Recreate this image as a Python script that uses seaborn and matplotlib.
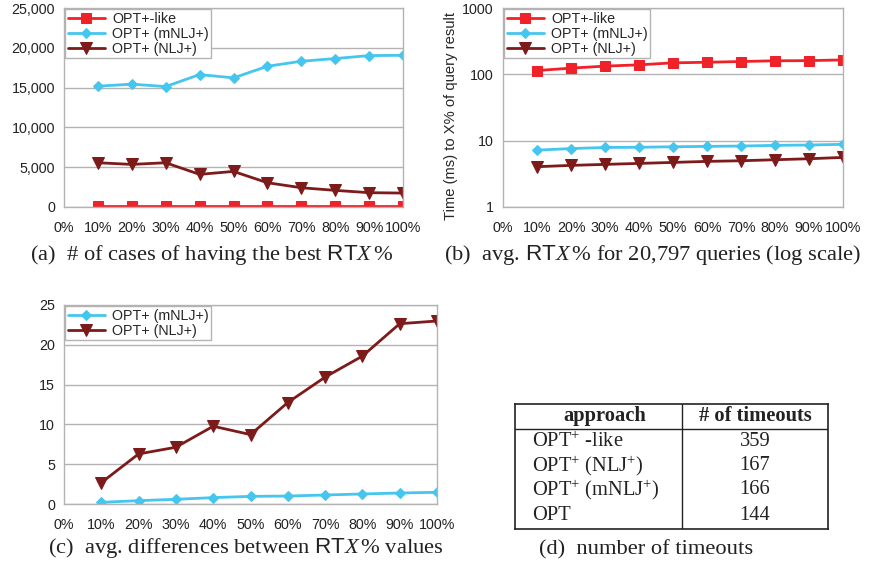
import matplotlib
matplotlib.use("Agg")
import matplotlib.pyplot as plt
import seaborn as sns
import pandas as pd
from matplotlib.ticker import FuncFormatter, FixedLocator, NullLocator

# ---------------- data ----------------
x_pct = [10, 20, 30, 40, 50, 60, 70, 80, 90, 100]
x_ticks = [0, 10, 20, 30, 40, 50, 60, 70, 80, 90, 100]
x_ticklabels = ["0%", "10%", "20%", "30%", "40%", "50%", "60%", "70%", "80%", "90%", "100%"]

names = ["OPT+-like", "OPT+ (mNLJ+)", "OPT+ (NLJ+)"]

a_like = [120, 120, 120, 120, 120, 120, 120, 120, 120, 120]
a_mnlj = [15180, 15430, 15130, 16640, 16220, 17680, 18310, 18650, 19020, 19060]
a_nlj = [5560, 5350, 5560, 4100, 4470, 3050, 2420, 2090, 1800, 1750]

b_like = [114, 124, 133, 139, 149, 152, 156, 160, 161, 165]
b_mnlj = [7.2, 7.6, 7.9, 7.95, 8.1, 8.2, 8.3, 8.5, 8.6, 8.8]
b_nlj = [4.05, 4.24, 4.39, 4.54, 4.70, 4.87, 4.98, 5.16, 5.34, 5.59]

c_mnlj = [0.21, 0.42, 0.59, 0.80, 0.96, 1.0, 1.13, 1.26, 1.38, 1.47]
c_nlj = [2.68, 6.29, 7.13, 9.77, 8.72, 12.75, 15.94, 18.58, 22.65, 22.99]

table_header = ["approach", "# of timeouts"]
table_approach = [r"OPT$^{+}$ -like", r"OPT$^{+}$ (NLJ$^{+}$)", r"OPT$^{+}$ (mNLJ$^{+}$)", "OPT"]
table_timeouts = [359, 167, 166, 144]

captions = [
    r"(a)  # of cases of having the best $\mathsf{RT}X\,$%",
    r"(b)  avg. $\mathsf{RT}X\,$% for 20,797 queries (log scale)",
    r"(c)  avg. differences between $\mathsf{RT}X\,$% values",
    "(d)  number of timeouts",
]

# ---------------- style ----------------
sns.set_style("white")
plt.rcParams["font.family"] = ["Liberation Sans", "DejaVu Sans"]
plt.rcParams["mathtext.fontset"] = "custom"
plt.rcParams["mathtext.rm"] = "Liberation Serif"
plt.rcParams["mathtext.it"] = "Liberation Serif:italic"
plt.rcParams["mathtext.sf"] = "Liberation Sans"
plt.rcParams["mathtext.bf"] = "Liberation Serif:bold"

RED = "#EE2228"
BLUE = "#45C6EE"
DARK = "#7D1A1A"
GRID = "#B3B3B3"
styles = {
    "OPT+-like": dict(color=RED, marker="s", markersize=7),
    "OPT+ (mNLJ+)": dict(color=BLUE, marker="D", markersize=5.5),
    "OPT+ (NLJ+)": dict(color=DARK, marker="v", markersize=8),
}

W, H = 869, 567
fig = plt.figure(figsize=(W / 100, H / 100), dpi=100)


def ax_at(l, t, r, b):
    return fig.add_axes([l / W, 1 - b / H, (r - l) / W, (b - t) / H])


def draw_series(ax, series):
    for name, vals in series:
        df = pd.DataFrame({"x": x_pct, "y": vals})
        st = styles[name]
        sns.lineplot(data=df, x="x", y="y", ax=ax, color=st["color"], marker=st["marker"],
                     markersize=st["markersize"], markeredgecolor=st["color"], linewidth=2.0,
                     label=name)


def style_axes(ax):
    ax.set_xlim(0, 100)
    ax.set_xticks(x_ticks)
    ax.set_xticklabels(x_ticklabels)
    ax.set_xlabel("")
    ax.set_ylabel("")
    ax.yaxis.grid(True, color=GRID, linewidth=1.0)
    ax.xaxis.grid(False)
    ax.set_axisbelow(True)
    for s in ax.spines.values():
        s.set_color(GRID)
        s.set_linewidth(1.0)
    ax.tick_params(axis="both", labelsize=10.3, colors="#222222", length=5, width=1,
                   color=GRID, pad=1.5)
    ax.tick_params(axis="x", length=0, pad=10)
    leg = ax.legend(loc="upper left", bbox_to_anchor=(0.0, 1.0), fontsize=10.3, frameon=True,
                    fancybox=False, framealpha=1, edgecolor=GRID, handlelength=2.6,
                    borderpad=0.15, labelspacing=0.08, handletextpad=0.5, borderaxespad=0.1)
    leg.get_frame().set_linewidth(1.0)


# (a)
axa = ax_at(64, 8, 403, 207)
draw_series(axa, [("OPT+-like", a_like), ("OPT+ (mNLJ+)", a_mnlj), ("OPT+ (NLJ+)", a_nlj)])
axa.set_ylim(0, 25000)
axa.set_yticks([0, 5000, 10000, 15000, 20000, 25000])
axa.yaxis.set_major_formatter(FuncFormatter(lambda v, p: f"{int(v):,}"))
style_axes(axa)

# (b)
axb = ax_at(503, 8, 843, 207)
draw_series(axb, [("OPT+-like", b_like), ("OPT+ (mNLJ+)", b_mnlj), ("OPT+ (NLJ+)", b_nlj)])
axb.set_yscale("log")
axb.set_ylim(1, 1000)
axb.yaxis.set_major_locator(FixedLocator([1, 10, 100, 1000]))
axb.yaxis.set_minor_locator(NullLocator())
axb.yaxis.set_major_formatter(FuncFormatter(lambda v, p: f"{int(round(v))}"))
style_axes(axb)
axb.set_ylabel("Time (ms) to X% of query result", fontsize=10.6)
axb.yaxis.set_label_coords(-0.132, 0.455)

# (c)
axc = ax_at(64, 305, 437, 504)
draw_series(axc, [("OPT+ (mNLJ+)", c_mnlj), ("OPT+ (NLJ+)", c_nlj)])
axc.set_ylim(0, 25)
axc.set_yticks([0, 5, 10, 15, 20, 25])
style_axes(axc)

# captions
cap_pos = [(212, 255), (653, 255), (246, 548), (646, 550)]
for txt, (cx, cy) in zip(captions, cap_pos):
    fig.text(cx / W, 1 - cy / H, txt, ha="center", va="center", fontsize=16.2,
             family="Liberation Serif", color="#222222")

# (d) table
axd = ax_at(515, 404, 828, 529)
axd.set_xlim(0, 313)
axd.set_ylim(125, 0)
axd.set_xticks([])
axd.set_yticks([])
for s in axd.spines.values():
    s.set_color("#222222")
    s.set_linewidth(1.2)
axd.axhline(25, color="#222222", linewidth=1.0)
axd.axvline(167, color="#222222", linewidth=1.0)
tkw = dict(family="Liberation Serif", fontsize=14.8, color="#222222", va="center")
axd.text(90, 12, table_header[0], ha="center", fontweight="bold", **tkw)
axd.text(240, 12, table_header[1], ha="center", fontweight="bold", **tkw)
row_y = [38, 62, 86, 111]
for ry, ap, to in zip(row_y, table_approach, table_timeouts):
    axd.text(17, ry, ap, ha="left", **tkw)
    axd.text(240, ry, str(to), ha="center", **tkw)

fig.savefig("out.png", dpi=100)
